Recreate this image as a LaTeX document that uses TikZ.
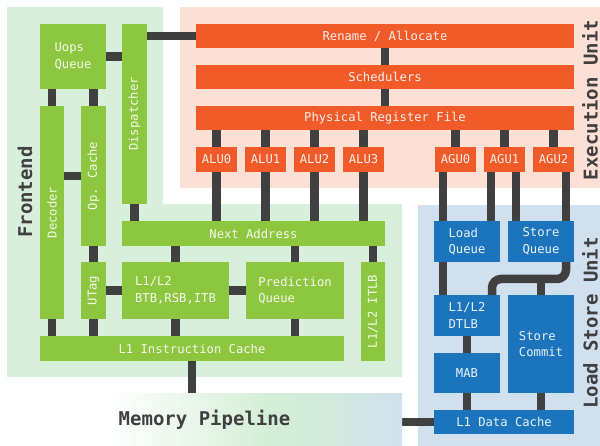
\documentclass[tikz,border=0pt]{standalone}
\usepackage{fontspec}
\usepackage{graphicx}
\newfontfamily\boxfont{DejaVu Sans Mono}
\definecolor{gbox}{HTML}{8DC63F}
\definecolor{obox}{HTML}{F15A29}
\definecolor{bbox}{HTML}{1C75BC}
\definecolor{connc}{HTML}{404041}
\definecolor{fgbg}{HTML}{D8EFDB}
\definecolor{exbg}{HTML}{FCDFD5}
\definecolor{lsbg}{HTML}{D0E0EE}
\definecolor{memgreen}{HTML}{D4EED6}
\definecolor{titlec}{HTML}{404041}
\pgfdeclarehorizontalshading{memshade}{100bp}{color(0bp)=(white); color(25bp)=(white); color(38bp)=(white); color(58bp)=(memgreen); color(66bp)=(memgreen!70!lsbg); color(75bp)=(lsbg); color(100bp)=(lsbg)}
\pgfdeclarelayer{bg}
\pgfdeclarelayer{mid}
\pgfsetlayers{bg,mid,main}
\begin{document}
\begin{tikzpicture}[x=1pt,y=-1pt,
  blk/.style={inner sep=0pt, font=\boxfont\fontsize{12.2}{16.5}\selectfont, text=white, text opacity=0.9, align=left},
  gb/.style={blk, fill=gbox},
  ob/.style={blk, fill=obox},
  bb/.style={blk, fill=bbox},
  conn/.style={draw=connc, line width=8.5pt},
  regtitle/.style={font=\boxfont\bfseries\fontsize{19}{22}\selectfont, text=titlec, inner sep=0pt}
]
\useasboundingbox (0,0) rectangle (600,446);

% ---- Frontend blocks
\node[gb, minimum width=66, minimum height=65] (uops) at (73,56.5) {Uops\\Queue};
\node[gb, minimum width=25, minimum height=180] (disp) at (134.5,114) {\rotatebox{90}{Dispatcher}};
\node[gb, minimum width=24, minimum height=213] (dec) at (52,212.5) {\rotatebox{90}{Decoder}};
\node[gb, minimum width=25, minimum height=140] (opc) at (93.5,176) {\rotatebox{90}{Op. Cache}};
\node[gb, minimum width=25, minimum height=57] (utag) at (93.5,290.5) {\rotatebox{90}{UTag}};
\node[gb, minimum width=263, minimum height=25] (next) at (253.5,233.5) {Next Address};
\node[gb, minimum width=107, minimum height=57] (btb) at (175.5,290.5) {L1/L2\\BTB,RSB,ITB};
\node[gb, minimum width=98, minimum height=57] (pq) at (295,290.5) {Prediction\\Queue};
\node[gb, minimum width=24, minimum height=99] (itlb) at (373,311.5) {\rotatebox{90}{L1/L2 ITLB}};
\node[gb, minimum width=304, minimum height=25] (l1i) at (192,348.5) {L1 Instruction Cache};

% ---- Execution blocks
\node[ob, minimum width=378, minimum height=24] (rename) at (385,36) {Rename / Allocate};
\node[ob, minimum width=378, minimum height=24] (sched) at (385,77) {Schedulers};
\node[ob, minimum width=378, minimum height=24] (prf) at (385,118) {Physical Register File};
\node[ob, minimum width=41, minimum height=25] (alu0) at (216.5,159.5) {ALU0};
\node[ob, minimum width=41, minimum height=25] (alu1) at (265.5,159.5) {ALU1};
\node[ob, minimum width=41, minimum height=25] (alu2) at (314.5,159.5) {ALU2};
\node[ob, minimum width=41, minimum height=25] (alu3) at (363.5,159.5) {ALU3};
\node[ob, minimum width=41, minimum height=25] (agu0) at (455.5,159.5) {AGU0};
\node[ob, minimum width=41, minimum height=25] (agu1) at (504.5,159.5) {AGU1};
\node[ob, minimum width=41, minimum height=25] (agu2) at (553.5,159.5) {AGU2};

% ---- Load/store blocks
\node[bb, minimum width=66, minimum height=41] (lq) at (467,241.5) {Load\\Queue};
\node[bb, minimum width=66, minimum height=41] (sq) at (541,241.5) {Store\\Queue};
\node[bb, minimum width=66, minimum height=41] (dtlb) at (467,315.5) {L1/L2\\DTLB};
\node[bb, minimum width=66, minimum height=40] (mab) at (467,373) {MAB};
\node[bb, minimum width=66, minimum height=98] (sc) at (541,344) {Store\\Commit};
\node[bb, minimum width=140, minimum height=24] (l1d) at (504,422) {L1 Data Cache};

% ---- region backgrounds
\begin{pgfonlayer}{bg}
\fill[fgbg] (7,7) -- (163,7) -- (163,204) -- (402,204) -- (402,377) -- (7,377) -- cycle;
\fill[exbg] (180,7) rectangle (600,188);
\fill[lsbg] (418,205) rectangle (600,446);
\end{pgfonlayer}

% ---- Memory pipeline
\node[regtitle, minimum width=395, minimum height=53, shading=memshade] (mem) at (204.5,419.5) {Memory Pipeline};

% ---- region titles
\node[regtitle, rotate=90] (fe) at (25,192) {Frontend};
\node[regtitle, rotate=90] (eu) at (590,100) {Execution Unit};
\node[regtitle, rotate=90] (lsu) at (590,323) {Load Store Unit};

\coordinate (bend) at (541,279);

\begin{pgfonlayer}{mid}
% frontend
\draw[conn] (disp.east |- rename.west) -- (rename.west);
\draw[conn] (uops.east) -- (uops.east -| disp.west);
\draw[conn] (uops.south -| dec.north) -- (dec.north);
\draw[conn] (uops.south -| opc.north) -- (opc.north);
\draw[conn] (dec.east |- opc.west) -- (opc.west);
\draw[conn] (opc.south) -- (utag.north);
\draw[conn] (disp.south) -- (disp.south |- next.north);
\draw[conn] (utag.east) -- (btb.west);
\draw[conn] (btb.east) -- (pq.west);
\draw[conn] (next.south -| btb.north) -- (btb.north);
\draw[conn] (next.south -| pq.north) -- (pq.north);
\draw[conn] (next.south -| itlb.north) -- (itlb.north);
\draw[conn] (dec.south) -- (dec.south |- l1i.north);
\draw[conn] (utag.south) -- (utag.south |- l1i.north);
\draw[conn] (btb.south) -- (btb.south |- l1i.north);
\draw[conn] (pq.south) -- (pq.south |- l1i.north);
\draw[conn] (l1i.south) -- (l1i.south |- mem.north);
% execution
\draw[conn] (rename.south) -- (sched.north);
\draw[conn] (sched.south) -- (prf.north);
\foreach \u in {alu0,alu1,alu2,alu3,agu0,agu1,agu2}
  \draw[conn] (\u.north |- prf.south) -- (\u.north);
\foreach \u in {alu0,alu1,alu2,alu3}
  \draw[conn] (\u.south) -- (\u.south |- next.north);
\draw[conn] ([xshift=-12.5pt]agu0.south) -- ([xshift=-12.5pt]agu0.south |- lq.north);
\draw[conn] ([xshift=-13.5pt]agu1.south) -- ([xshift=-13.5pt]agu1.south |- lq.north);
\draw[conn] ([xshift=11.5pt]agu1.south) -- ([xshift=11.5pt]agu1.south |- sq.north);
\draw[conn] ([xshift=12.5pt]agu2.south) -- ([xshift=12.5pt]agu2.south |- sq.north);
% load/store
\draw[conn] ([xshift=-24pt]lq.south) -- ([xshift=-24pt]dtlb.north);
\draw[conn] (dtlb.south) -- (mab.north);
\draw[conn] (mab.south) -- (mab.south |- l1d.north);
\draw[conn] (sc.south) -- (sc.south |- l1d.north);
\draw[conn, rounded corners=9pt] ([xshift=25pt]sq.south) -- ([xshift=25pt]sq.south |- bend) -| ([xshift=25pt]dtlb.north);
\draw[conn] (sc.north |- bend) -- (sc.north);
\draw[conn] (l1d.west) -- (l1d.west -| mem.east);
\end{pgfonlayer}
\end{tikzpicture}
\end{document}
